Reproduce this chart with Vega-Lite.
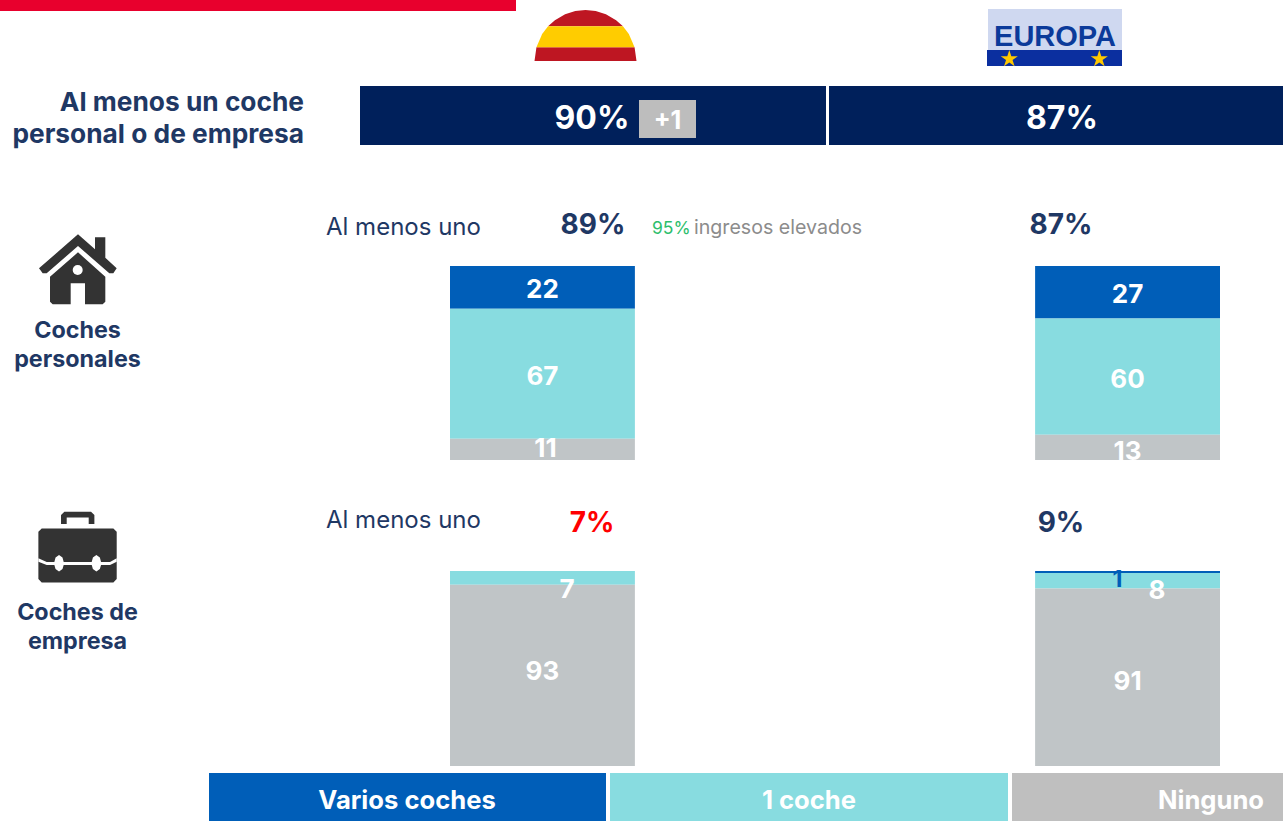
{"$schema":"https://vega.github.io/schema/vega-lite/v6.json","width":1283,"height":821,"padding":0,"autosize":"none","background":"white","config":{"view":{"stroke":null},"axis":{"disable":true},"legend":{"disable":true},"text":{"font":"Inter","baseline":"middle","dy":1}},"datasets":{"bars":[{"panel":"personales","region":"España","category":"Varios coches","orden":1,"pct":22},{"panel":"personales","region":"España","category":"1 coche","orden":2,"pct":67},{"panel":"personales","region":"España","category":"Ninguno","orden":3,"pct":11},{"panel":"personales","region":"Europa","category":"Varios coches","orden":1,"pct":27},{"panel":"personales","region":"Europa","category":"1 coche","orden":2,"pct":60},{"panel":"personales","region":"Europa","category":"Ninguno","orden":3,"pct":13},{"panel":"empresa","region":"España","category":"1 coche","orden":2,"pct":7},{"panel":"empresa","region":"España","category":"Ninguno","orden":3,"pct":93},{"panel":"empresa","region":"Europa","category":"Varios coches","orden":1,"pct":1},{"panel":"empresa","region":"Europa","category":"1 coche","orden":2,"pct":8},{"panel":"empresa","region":"Europa","category":"Ninguno","orden":3,"pct":91}]},"resolve":{"scale":{"x":"independent","y":"independent","fill":"independent"}},"layer":[{"layer":[{"data":{"values":[{"name":"cabecera"}]},"mark":{"type":"rect","fill":"#E8002D"},"encoding":{"x":{"datum":0,"scale":{"domain":[0,1283],"range":[0,1283],"nice":false}},"x2":{"datum":516},"y":{"datum":0,"scale":{"domain":[0,821],"range":[0,821],"nice":false}},"y2":{"datum":11}}},{"data":{"values":[{"name":"España"}]},"mark":{"type":"point","filled":true,"opacity":1,"fill":"#BE1622","stroke":null,"size":10404,"shape":"M-0.734 -0.68L-0.6 -0.8L-0.4 -0.917L-0.2 -0.98L0 -1L0.2 -0.98L0.4 -0.917L0.6 -0.8L0.734 -0.68ZM-0.962 -0.272L0.962 -0.272L1 0L-1 0Z"},"encoding":{"x":{"datum":585.5},"y":{"datum":61}}},{"data":{"values":[{"name":"España"}]},"mark":{"type":"point","filled":true,"opacity":1,"fill":"#FFCC00","stroke":null,"size":10404,"shape":"M-0.734 -0.68L0.734 -0.68L0.85 -0.527L0.962 -0.272L-0.962 -0.272L-0.85 -0.527Z"},"encoding":{"x":{"datum":585.5},"y":{"datum":61}}},{"data":{"values":[{"name":"Europa"}]},"mark":{"type":"rect","fill":"#CFD8F0"},"encoding":{"x":{"datum":988},"x2":{"datum":1122},"y":{"datum":9},"y2":{"datum":50}}},{"data":{"values":[{"name":"Europa"}]},"mark":{"type":"rect","fill":"#0B2F9F"},"encoding":{"x":{"datum":987},"x2":{"datum":1122},"y":{"datum":50},"y2":{"datum":66}}},{"data":{"values":[{"label":"EUROPA"}]},"mark":{"type":"text","font":"Liberation Sans","fontWeight":"bold","fontSize":29,"fill":"#0B3A9A","align":"center"},"encoding":{"x":{"datum":1055},"y":{"datum":36},"text":{"field":"label"}}},{"data":{"values":[{"name":"estrella"}]},"mark":{"type":"point","filled":true,"opacity":1,"fill":"#FFC800","stroke":null,"size":324,"shape":"M0 -1L0.224 -0.309L0.951 -0.309L0.363 0.118L0.588 0.809L0 0.382L-0.588 0.809L-0.363 0.118L-0.951 -0.309L-0.224 -0.309Z"},"encoding":{"x":{"datum":1009.3},"y":{"datum":59}}},{"data":{"values":[{"name":"estrella"}]},"mark":{"type":"point","filled":true,"opacity":1,"fill":"#FFC800","stroke":null,"size":324,"shape":"M0 -1L0.224 -0.309L0.951 -0.309L0.363 0.118L0.588 0.809L0 0.382L-0.588 0.809L-0.363 0.118L-0.951 -0.309L-0.224 -0.309Z"},"encoding":{"x":{"datum":1099.3},"y":{"datum":59}}},{"data":{"values":[{"label":"Al menos un coche"}]},"mark":{"type":"text","fontWeight":"bold","fontSize":26.3,"fill":"#1F3864","align":"right"},"encoding":{"x":{"datum":304},"y":{"datum":102},"text":{"field":"label"}}},{"data":{"values":[{"label":"personal o de empresa"}]},"mark":{"type":"text","fontWeight":"bold","fontSize":26.3,"fill":"#1F3864","align":"right"},"encoding":{"x":{"datum":304},"y":{"datum":134},"text":{"field":"label"}}},{"data":{"values":[{"region":"España"}]},"mark":{"type":"rect","fill":"#00205B"},"encoding":{"x":{"datum":360},"x2":{"datum":826},"y":{"datum":86},"y2":{"datum":145}}},{"data":{"values":[{"region":"Europa"}]},"mark":{"type":"rect","fill":"#00205B"},"encoding":{"x":{"datum":829},"x2":{"datum":1283},"y":{"datum":86},"y2":{"datum":145}}},{"data":{"values":[{"label":"90%"}]},"mark":{"type":"text","fontWeight":"bold","fontSize":32,"fill":"white","align":"center"},"encoding":{"x":{"datum":592},"y":{"datum":118},"text":{"field":"label"}}},{"data":{"values":[{"label":"87%"}]},"mark":{"type":"text","fontWeight":"bold","fontSize":32,"fill":"white","align":"center"},"encoding":{"x":{"datum":1062},"y":{"datum":118},"text":{"field":"label"}}},{"data":{"values":[{"name":"cambio"}]},"mark":{"type":"rect","fill":"#BDBDBD"},"encoding":{"x":{"datum":639},"x2":{"datum":696},"y":{"datum":100},"y2":{"datum":138}}},{"data":{"values":[{"label":"+1"}]},"mark":{"type":"text","fontWeight":"bold","fontSize":25,"fill":"white","align":"center"},"encoding":{"x":{"datum":667.5},"y":{"datum":120},"text":{"field":"label"}}},{"data":{"values":[{"name":"casa"}]},"mark":{"type":"point","filled":true,"opacity":1,"fill":"#333333","stroke":null,"size":6400,"shape":"M0 -0.892L0.425 -0.517L0.425 -0.817L0.683 -0.817L0.683 -0.308L0.967 -0.042L0.883 0.083L0.783 0.083L0 -0.6L-0.783 0.083L-0.883 0.083L-0.975 -0.042ZM0 -0.442L0.683 0.167L0.683 0.792L0.617 0.858L0.175 0.858L0.175 0.333L-0.183 0.333L-0.183 0.858L-0.633 0.858L-0.7 0.792L-0.7 0.167Z"},"encoding":{"x":{"datum":78},"y":{"datum":270}}},{"data":{"values":[{"name":"ventana"}]},"mark":{"type":"point","filled":true,"opacity":1,"fill":"white","stroke":null,"size":100,"shape":"circle"},"encoding":{"x":{"datum":77.7},"y":{"datum":270}}},{"data":{"values":[{"label":"Coches"}]},"mark":{"type":"text","fontWeight":"bold","fontSize":23.3,"fill":"#1F3864","align":"center"},"encoding":{"x":{"datum":77.5},"y":{"datum":330},"text":{"field":"label"}}},{"data":{"values":[{"label":"personales"}]},"mark":{"type":"text","fontWeight":"bold","fontSize":23.3,"fill":"#1F3864","align":"center"},"encoding":{"x":{"datum":77.5},"y":{"datum":359},"text":{"field":"label"}}},{"data":{"values":[{"name":"maletín"}]},"mark":{"type":"point","filled":true,"opacity":1,"fill":"#333333","stroke":null,"size":6400,"shape":"M-0.9 -0.458L0.892 -0.458L0.975 -0.375L0.975 0.808L0.892 0.892L-0.9 0.892L-0.983 0.808L-0.983 -0.375ZM-0.417 -0.567L-0.417 -0.792L-0.333 -0.875L0.333 -0.875L0.417 -0.792L0.417 -0.567L0.275 -0.567L0.275 -0.733L-0.275 -0.733L-0.275 -0.567Z"},"encoding":{"x":{"datum":77.7},"y":{"datum":546.7}}},{"data":{"values":[{"name":"maletín"}]},"mark":{"type":"point","filled":true,"opacity":1,"fill":"white","stroke":null,"size":6400,"shape":"M-0.983 0.29L-0.775 0.38L0.808 0.38L0.975 0.29L0.975 0.375L0.808 0.46L-0.775 0.46L-0.983 0.375ZM-0.467 0.21L-0.38 0.27L-0.34 0.417L-0.38 0.56L-0.467 0.62L-0.554 0.56L-0.594 0.417L-0.554 0.27ZM0.467 0.21L0.554 0.27L0.594 0.417L0.554 0.56L0.467 0.62L0.38 0.56L0.34 0.417L0.38 0.27Z"},"encoding":{"x":{"datum":77.7},"y":{"datum":546.7}}},{"data":{"values":[{"label":"Coches de"}]},"mark":{"type":"text","fontWeight":"bold","fontSize":23.3,"fill":"#1F3864","align":"center"},"encoding":{"x":{"datum":77.5},"y":{"datum":612},"text":{"field":"label"}}},{"data":{"values":[{"label":"empresa"}]},"mark":{"type":"text","fontWeight":"bold","fontSize":23.3,"fill":"#1F3864","align":"center"},"encoding":{"x":{"datum":77.5},"y":{"datum":641},"text":{"field":"label"}}},{"data":{"values":[{"label":"Al menos uno"}]},"mark":{"type":"text","fontWeight":"normal","fontSize":24,"fill":"#1F3864","align":"left"},"encoding":{"x":{"datum":326},"y":{"datum":227},"text":{"field":"label"}}},{"data":{"values":[{"label":"Al menos uno"}]},"mark":{"type":"text","fontWeight":"normal","fontSize":24,"fill":"#1F3864","align":"left"},"encoding":{"x":{"datum":326},"y":{"datum":520},"text":{"field":"label"}}},{"data":{"values":[{"label":"89%"}]},"mark":{"type":"text","fontWeight":"bold","fontSize":28,"fill":"#1F3864","align":"center"},"encoding":{"x":{"datum":593},"y":{"datum":225},"text":{"field":"label"}}},{"data":{"values":[{"label":"87%"}]},"mark":{"type":"text","fontWeight":"bold","fontSize":28,"fill":"#1F3864","align":"center"},"encoding":{"x":{"datum":1061},"y":{"datum":225},"text":{"field":"label"}}},{"data":{"values":[{"label":"7%"}]},"mark":{"type":"text","fontWeight":"bold","fontSize":28,"fill":"#FF0000","align":"center"},"encoding":{"x":{"datum":592},"y":{"datum":523},"text":{"field":"label"}}},{"data":{"values":[{"label":"9%"}]},"mark":{"type":"text","fontWeight":"bold","fontSize":28,"fill":"#1F3864","align":"center"},"encoding":{"x":{"datum":1061},"y":{"datum":523},"text":{"field":"label"}}},{"data":{"values":[{"label":"95%"}]},"mark":{"type":"text","fontWeight":"normal","fontSize":17.5,"fill":"#2DBE6C","align":"left"},"encoding":{"x":{"datum":652},"y":{"datum":228},"text":{"field":"label"}}},{"data":{"values":[{"label":"ingresos elevados"}]},"mark":{"type":"text","fontWeight":"normal","fontSize":19.6,"fill":"#8C8C8C","align":"left"},"encoding":{"x":{"datum":694},"y":{"datum":227},"text":{"field":"label"}}},{"data":{"values":[{"category":"Varios coches"}]},"mark":{"type":"rect","fill":"#005EB8"},"encoding":{"x":{"datum":209},"x2":{"datum":606},"y":{"datum":773},"y2":{"datum":821}}},{"data":{"values":[{"category":"1 coche"}]},"mark":{"type":"rect","fill":"#88DCE0"},"encoding":{"x":{"datum":610},"x2":{"datum":1008},"y":{"datum":773},"y2":{"datum":821}}},{"data":{"values":[{"category":"Ninguno"}]},"mark":{"type":"rect","fill":"#BFBFBF"},"encoding":{"x":{"datum":1012},"x2":{"datum":1283},"y":{"datum":773},"y2":{"datum":821}}},{"data":{"values":[{"label":"Varios coches"}]},"mark":{"type":"text","fontWeight":"bold","fontSize":25.6,"fill":"white","align":"center"},"encoding":{"x":{"datum":407},"y":{"datum":800},"text":{"field":"label"}}},{"data":{"values":[{"label":"1 coche"}]},"mark":{"type":"text","fontWeight":"bold","fontSize":25.6,"fill":"white","align":"center"},"encoding":{"x":{"datum":809},"y":{"datum":800},"text":{"field":"label"}}},{"data":{"values":[{"label":"Ninguno"}]},"mark":{"type":"text","fontWeight":"bold","fontSize":25.6,"fill":"white","align":"center"},"encoding":{"x":{"datum":1211},"y":{"datum":800},"text":{"field":"label"}}}]},{"data":{"name":"bars"},"transform":[{"filter":{"field":"panel","equal":"personales"}},{"stack":"pct","groupby":["region"],"sort":[{"field":"orden","order":"descending"}],"as":["y0","y1"]},{"calculate":"(datum.y0+datum.y1)/2","as":"mid"}],"encoding":{"x":{"field":"region","type":"nominal","scale":{"domain":["España","Europa"],"range":[450,1220],"paddingInner":0.684,"paddingOuter":0}}},"layer":[{"mark":{"type":"bar"},"encoding":{"y":{"field":"y0","type":"quantitative","scale":{"domain":[0,100],"range":[460,266],"nice":false}},"y2":{"field":"y1"},"fill":{"field":"category","type":"nominal","scale":{"domain":["Varios coches","1 coche","Ninguno"],"range":["#005EB8","#88DCE0","#C0C5C7"]}}}},{"transform":[{"filter":"datum.pct!=13 && datum.pct!=11"}],"mark":{"type":"text","fontWeight":"bold","fontSize":26,"fill":"white","align":"center","dy":3},"encoding":{"y":{"field":"mid","type":"quantitative"},"text":{"field":"pct","type":"nominal"}}},{"transform":[{"filter":"datum.pct==11"}],"mark":{"type":"text","fontWeight":"bold","fontSize":26,"fill":"white","align":"center","dx":3,"dy":0},"encoding":{"y":{"field":"mid","type":"quantitative"},"text":{"field":"pct","type":"nominal"}}},{"transform":[{"filter":"datum.pct==13"}],"mark":{"type":"text","fontWeight":"bold","fontSize":26,"fill":"white","align":"center","dy":5},"encoding":{"y":{"field":"mid","type":"quantitative"},"text":{"field":"pct","type":"nominal"}}}]},{"data":{"name":"bars"},"transform":[{"filter":{"field":"panel","equal":"empresa"}},{"stack":"pct","groupby":["region"],"sort":[{"field":"orden","order":"descending"}],"as":["y0","y1"]},{"calculate":"(datum.y0+datum.y1)/2","as":"mid"}],"encoding":{"x":{"field":"region","type":"nominal","scale":{"domain":["España","Europa"],"range":[450,1220],"paddingInner":0.684,"paddingOuter":0}}},"layer":[{"mark":{"type":"bar"},"encoding":{"y":{"field":"y0","type":"quantitative","scale":{"domain":[0,100],"range":[766,571],"nice":false}},"y2":{"field":"y1"},"fill":{"field":"category","type":"nominal","scale":{"domain":["Varios coches","1 coche","Ninguno"],"range":["#005EB8","#88DCE0","#C0C5C7"]}}}},{"transform":[{"filter":"datum.pct==7"}],"mark":{"type":"text","fontWeight":"bold","fontSize":26,"fill":"white","align":"center","dx":24.5,"dy":12},"encoding":{"y":{"field":"mid","type":"quantitative"},"text":{"field":"pct","type":"nominal"}}},{"transform":[{"filter":"datum.pct==93"}],"mark":{"type":"text","fontWeight":"bold","fontSize":26,"fill":"white","align":"center","dy":-3.5},"encoding":{"y":{"field":"mid","type":"quantitative"},"text":{"field":"pct","type":"nominal"}}},{"transform":[{"filter":"datum.pct==91"}],"mark":{"type":"text","fontWeight":"bold","fontSize":26,"fill":"white","align":"center","dy":4.5},"encoding":{"y":{"field":"mid","type":"quantitative"},"text":{"field":"pct","type":"nominal"}}},{"transform":[{"filter":"datum.pct==1"}],"mark":{"type":"text","fontWeight":"bold","fontSize":23,"fill":"#005EB8","align":"center","dx":-10,"dy":8},"encoding":{"y":{"field":"mid","type":"quantitative"},"text":{"field":"pct","type":"nominal"}}},{"transform":[{"filter":"datum.pct==8"}],"mark":{"type":"text","fontWeight":"bold","fontSize":26,"fill":"white","align":"center","dx":29.5,"dy":10},"encoding":{"y":{"field":"mid","type":"quantitative"},"text":{"field":"pct","type":"nominal"}}}]}]}
